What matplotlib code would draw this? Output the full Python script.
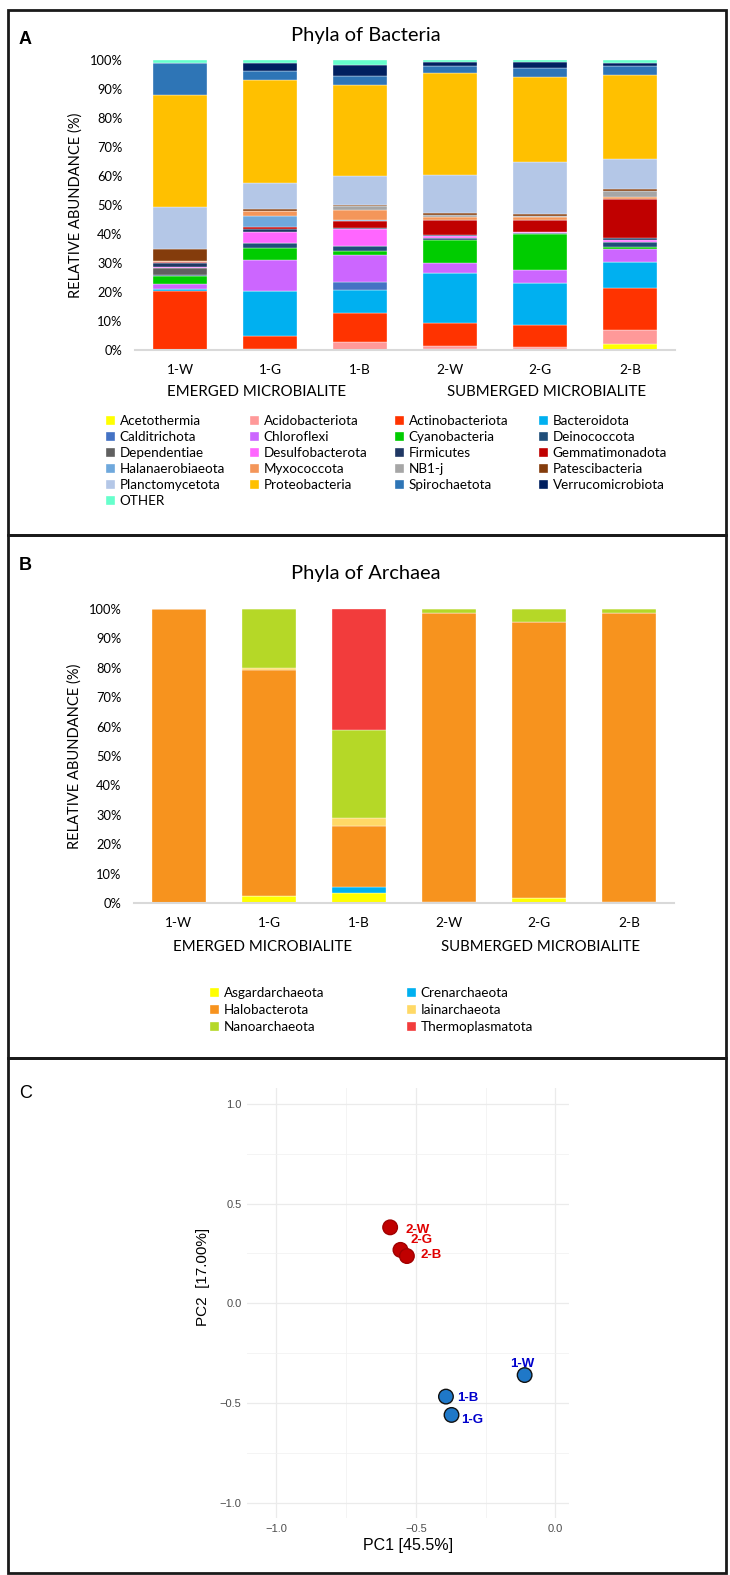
import matplotlib.pyplot as plt
from matplotlib.patches import Rectangle
from matplotlib.ticker import MultipleLocator
import numpy as np

samples = ['1-W', '1-G', '1-B', '2-W', '2-G', '2-B']

# bacteria, % relative abundance per sample (1-W, 1-G, 1-B, 2-W, 2-G, 2-B)
acetothermia = [0, 0, 0, 0.5, 0.3, 2.0]
acidobacteriota = [0, 0.3, 2.9, 1.0, 0.6, 4.9]
actinobacteriota = [20.3, 4.5, 10.0, 7.7, 7.7, 14.6]
bacteroidota = [0.6, 15.5, 7.8, 17.2, 14.4, 9.0]
calditrichota = [0.1, 0, 2.9, 0, 0, 0]
chloroflexi = [1.8, 10.7, 9.2, 3.5, 4.6, 4.2]
cyanobacteria = [2.8, 4.1, 1.3, 8.0, 12.3, 0.9]
deinococcota = [0.2, 1.7, 1.8, 0.8, 0.3, 1.5]
dependentiae = [2.5, 0, 0, 0, 0, 0]
desulfobacterota = [0.2, 4.0, 5.8, 0.5, 0.4, 0.8]
firmicutes = [1.4, 0.8, 0.5, 0.4, 0, 0.8]
gemmatimonadota = [0.6, 0.8, 2.4, 5.2, 4.2, 13.4]
halanaerobiaeota = [0, 3.9, 0.3, 0.2, 0, 0]
myxococcota = [0.2, 1.6, 3.4, 1.0, 0.9, 0.5]
nb1j = [0, 0, 1.5, 0.7, 0.5, 2.2]
patescibacteria = [4.1, 0.7, 0.2, 0.4, 0.6, 0.6]
planctomycetota = [14.4, 9.1, 9.9, 13.4, 18.0, 10.5]
proteobacteria = [38.6, 35.5, 31.4, 35.0, 29.3, 29.0]
spirochaetota = [11.1, 3.0, 3.2, 2.5, 3.1, 3.2]
verrucomicrobiota = [0, 2.9, 3.8, 1.2, 2.0, 0.8]
other = [1.1, 0.9, 1.7, 0.8, 0.8, 1.1]

bac_names = ['Acetothermia', 'Acidobacteriota', 'Actinobacteriota', 'Bacteroidota',
             'Calditrichota', 'Chloroflexi', 'Cyanobacteria', 'Deinococcota',
             'Dependentiae', 'Desulfobacterota', 'Firmicutes', 'Gemmatimonadota',
             'Halanaerobiaeota', 'Myxococcota', 'NB1-j', 'Patescibacteria',
             'Planctomycetota', 'Proteobacteria', 'Spirochaetota', 'Verrucomicrobiota',
             'OTHER']
bac_values = [acetothermia, acidobacteriota, actinobacteriota, bacteroidota,
              calditrichota, chloroflexi, cyanobacteria, deinococcota,
              dependentiae, desulfobacterota, firmicutes, gemmatimonadota,
              halanaerobiaeota, myxococcota, nb1j, patescibacteria,
              planctomycetota, proteobacteria, spirochaetota, verrucomicrobiota,
              other]
bac_colors = ['#FFFF00', '#FF9999', '#FF3300', '#00B0F0',
              '#4472C4', '#CC66FF', '#00CC00', '#1F4E79',
              '#606060', '#FF66FF', '#203864', '#C00000',
              '#6FA8DC', '#F4965A', '#A6A6A6', '#843C0C',
              '#B4C7E7', '#FFC000', '#2E75B6', '#002060',
              '#66FFCC']

# archaea
asgardarchaeota = [0, 2.3, 3.4, 0, 1.6, 0]
crenarchaeota = [0, 0, 2.2, 0.4, 0, 0.5]
halobacterota = [100, 76.9, 20.7, 98.4, 94.1, 98.1]
iainarchaeota = [0, 0.8, 2.7, 0, 0, 0]
nanoarchaeota = [0, 20.0, 29.8, 1.2, 4.3, 1.4]
thermoplasmatota = [0, 0, 41.2, 0, 0, 0]

arc_names = ['Asgardarchaeota', 'Crenarchaeota', 'Halobacterota',
             'Iainarchaeota', 'Nanoarchaeota', 'Thermoplasmatota']
arc_values = [asgardarchaeota, crenarchaeota, halobacterota,
              iainarchaeota, nanoarchaeota, thermoplasmatota]
arc_colors = ['#FFFF00', '#00B0F0', '#F7931E', '#FFD966', '#B5D827', '#F23C3C']

# PCA
pc_labels = ['1-W', '1-G', '1-B', '2-W', '2-G', '2-B']
pc1 = [-0.11, -0.372, -0.392, -0.592, -0.555, -0.532]
pc2 = [-0.36, -0.56, -0.468, 0.381, 0.268, 0.237]
pc_offsets = [(-2, 8), (7, -4), (8, -1), (11, -2), (7, 7), (10, 1)]

W, H = 730, 1575
def fx(x):
    return x / W
def fy(y):
    return 1 - y / H

cal = ['Lato', 'DejaVu Sans']
ari = ['Liberation Sans', 'DejaVu Sans']

fig = plt.figure(figsize=(7.3, 15.75), dpi=100)

# panel frames
for top, bot in [(10, 535), (535, 1058), (1058, 1573)]:
    fig.patches.append(Rectangle((fx(8), fy(bot)), fx(726) - fx(8), (bot - top) / H,
                                 fill=False, lw=2, ec='#1a1a1a',
                                 transform=fig.transFigure))


def stacked(ax, values, colors, names):
    x = np.arange(len(samples))
    bottom = np.zeros(len(samples))
    handles = []
    for vals, c, n in zip(values, colors, names):
        b = ax.bar(x, vals, 0.6, bottom=bottom, color=c, label=n,
                   edgecolor='white', linewidth=0.25)
        bottom += np.array(vals)
        handles.append(b)
    ax.set_xlim(-0.5, 5.5)
    ax.set_ylim(0, 100)
    ax.yaxis.set_major_locator(MultipleLocator(10))
    ax.set_yticklabels([f'{int(v)}%' for v in ax.get_yticks()], family=cal, fontsize=9.3)
    ax.set_xticks(x)
    ax.set_xticklabels(samples, family=cal, fontsize=9.8)
    ax.tick_params(length=0)
    ax.tick_params(axis='y', pad=9)
    ax.tick_params(axis='x', pad=10)
    for s in ['top', 'right', 'left']:
        ax.spines[s].set_visible(False)
    ax.spines['bottom'].set_color('#D9D9D9')
    ax.spines['bottom'].set_linewidth(1.5)
    ax.set_ylabel('RELATIVE ABUNDANCE (%)', family=cal, fontsize=10.5, labelpad=5)
    return handles


def column_legends(handles, names, columns, xs, ytop, ls):
    for idx, x in zip(columns, xs):
        fig.legend([handles[i] for i in idx], [names[i] for i in idx],
                   loc='upper left', bbox_to_anchor=(fx(x), fy(ytop)), frameon=False,
                   prop={'family': cal, 'size': 9.7}, handlelength=0.65,
                   handleheight=0.65, handletextpad=0.35, labelspacing=ls,
                   borderpad=0, borderaxespad=0)


# ---- A
axA = fig.add_axes([fx(135), fy(350), 540 / W, 290 / H])
hA = stacked(axA, bac_values, bac_colors, bac_names)
fig.text(fx(19), fy(39), 'A', family=ari, fontsize=13, weight='bold', va='center')
fig.text(fx(366), fy(36), 'Phyla of Bacteria', family=cal, fontsize=14.5,
         ha='center', va='center')
fig.text(fx(257), fy(392), 'EMERGED MICROBIALITE', family=cal, fontsize=10.8,
         ha='center', va='center')
fig.text(fx(547), fy(392), 'SUBMERGED MICROBIALITE', family=cal, fontsize=10.8,
         ha='center', va='center')
column_legends(hA, bac_names,
               [[0, 4, 8, 12, 16, 20], [1, 5, 9, 13, 17], [2, 6, 10, 14, 18],
                [3, 7, 11, 15, 19]],
               [106, 250, 395, 539], 415, 0.30)

# ---- B
axB = fig.add_axes([fx(134), fy(903), 540 / W, 294 / H])
hB = stacked(axB, arc_values, arc_colors, arc_names)
fig.text(fx(19), fy(566), 'B', family=ari, fontsize=13, weight='bold', va='center')
fig.text(fx(366), fy(573), 'Phyla of Archaea', family=cal, fontsize=14.5,
         ha='center', va='center')
fig.text(fx(263), fy(947), 'EMERGED MICROBIALITE', family=cal, fontsize=10.8,
         ha='center', va='center')
fig.text(fx(541), fy(947), 'SUBMERGED MICROBIALITE', family=cal, fontsize=10.8,
         ha='center', va='center')
column_legends(hB, arc_names, [[0, 2, 4], [1, 3, 5]], [210, 407], 987, 0.38)

# ---- C
axC = fig.add_axes([fx(247), fy(1518), (569 - 247) / W, (1518 - 1088) / H])
fig.text(fx(19), fy(1093), 'C', family=ari, fontsize=13, va='center')
cols = ['#1F78C8' if l.startswith('1') else '#C00000' for l in pc_labels]
edges = ['#111111' if l.startswith('1') else '#A00000' for l in pc_labels]
axC.scatter(pc1, pc2, s=110, c=cols, edgecolors=edges, linewidths=1.0, zorder=3)
for lab, x, y, off in zip(pc_labels, pc1, pc2, pc_offsets):
    tc = '#0000CC' if lab.startswith('1') else '#E00000'
    ha = 'center' if lab == '1-W' else 'left'
    axC.annotate(lab, (x, y), xytext=off, textcoords='offset points', ha=ha,
                 va='center', color=tc, fontsize=9.5, weight='bold', family=ari)
axC.set_xlim(-1.105, 0.049)
axC.set_ylim(-1.077, 1.08)
axC.xaxis.set_major_locator(MultipleLocator(0.5))
axC.yaxis.set_major_locator(MultipleLocator(0.5))
axC.xaxis.set_minor_locator(MultipleLocator(0.25))
axC.yaxis.set_minor_locator(MultipleLocator(0.25))
axC.grid(which='major', color='#EBEBEB', lw=0.9)
axC.grid(which='minor', color='#F2F2F2', lw=0.6)
axC.set_axisbelow(True)
for s in axC.spines.values():
    s.set_visible(False)
axC.tick_params(which='both', length=0, labelsize=8, labelcolor='#4D4D4D', pad=4)
for t in axC.get_xticklabels() + axC.get_yticklabels():
    t.set_family(ari)
axC.set_xlabel('PC1 [45.5%]', family=ari, fontsize=11.5, labelpad=3)
axC.set_ylabel('PC2  [17.00%]', family=ari, fontsize=11)
axC.yaxis.set_label_coords(-0.116, 0.56)

fig.savefig('out.png', dpi=100)
